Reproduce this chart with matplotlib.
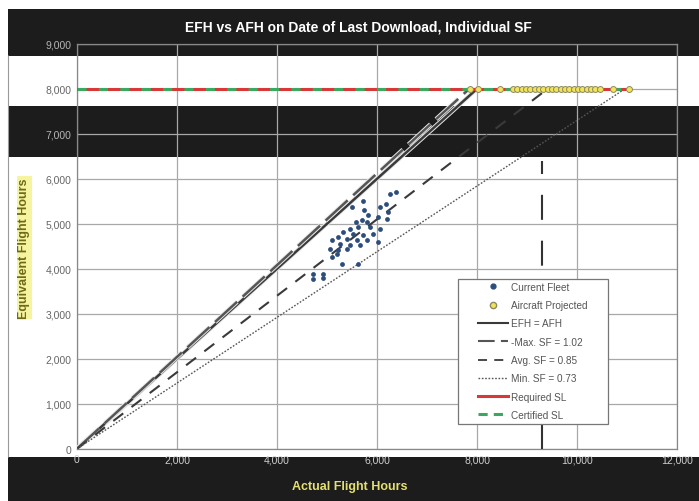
import matplotlib
matplotlib.use('Agg')
import matplotlib.pyplot as plt
import matplotlib.patheffects as pe
from matplotlib.patches import Rectangle
from matplotlib.lines import Line2D

plt.rcParams['font.family'] = ['Liberation Sans', 'DejaVu Sans']

# current fleet: actual flight hours vs equivalent flight hours
fleet_afh = [6260, 6380, 5727, 6180, 6060, 5740, 6227, 5827, 6027, 5693, 5580, 5793,
             6193, 5460, 5627, 5860, 6060, 5327, 5527, 5727, 5927, 5227, 5393, 5593,
             5793, 5093, 5260, 5460, 5660, 5060, 5227, 5393, 5093, 5193, 5293, 5627,
             6027, 4727, 4927, 4727, 4913, 5493]
fleet_efh = [5667, 5700, 5496, 5444, 5370, 5296, 5259, 5185, 5148, 5074, 5037, 5037,
             5111, 4889, 4926, 4926, 4889, 4815, 4778, 4741, 4778, 4704, 4667, 4630,
             4630, 4630, 4556, 4519, 4519, 4444, 4407, 4444, 4259, 4333, 4111, 4111,
             4593, 3889, 3889, 3778, 3793, 5370]

# projected AFH at which each aircraft reaches the service limit
proj_afh = [7860, 8020, 8460, 8720, 8800, 8890, 8980, 9060, 9150, 9240, 9320, 9410,
            9500, 9580, 9670, 9760, 9840, 9930, 10020, 10100, 10190, 10280, 10360,
            10450, 10720, 11040]
service_limit = 8000

sf_max = 1.02
sf_avg = 0.85
sf_min = 0.73

x_ticks = [0, 2000, 4000, 6000, 8000, 10000, 12000]
y_ticks = [0, 1000, 2000, 3000, 4000, 5000, 6000, 7000, 8000, 9000]

fig = plt.figure(figsize=(6.99, 5.02), dpi=100)
fig.patch.set_facecolor('white')

# photocopied black bands behind the chart
band = '#1c1c1c'
for y0, h in [(0.886, 0.094), (0.685, 0.102), (0.0, 0.088)]:
    fig.patches.append(Rectangle((0.0115, y0), 1 - 0.0115, h, transform=fig.transFigure,
                                 facecolor=band, edgecolor='none', zorder=-2))
fig.patches.append(Rectangle((0.0115, 0.088), 0.0, 0.8, transform=fig.transFigure,
                             facecolor='none', edgecolor='#999999', lw=0.8, zorder=-2))

ax = fig.add_axes([0.110, 0.104, 0.859, 0.807])
ax.set_zorder(1)
ax.set_facecolor('none')
ax.set_xlim(0, 12000)
ax.set_ylim(0, 9000)
ax.set_xticks(x_ticks)
ax.set_yticks(y_ticks)
ax.set_xticklabels(['{:,}'.format(v) for v in x_ticks], fontsize=7.5, color='#cfcfcf')
ax.set_yticklabels(['{:,}'.format(v) for v in y_ticks], fontsize=7.5, color='#666666')
for lab, v in zip(ax.get_yticklabels(), y_ticks):
    if v in (7000, 9000):
        lab.set_color('#b5b5b5')
ax.tick_params(length=0, pad=4)
ax.grid(True, color='#a8a8a8', lw=0.9)
ax.set_axisbelow(True)
for s in ax.spines.values():
    s.set_color('#888888')
    s.set_linewidth(0.9)

halo = [pe.Stroke(linewidth=3.2, foreground='#e8e8e8'), pe.Normal()]

# reference lines
ax.plot([0, service_limit], [0, service_limit], color='#3a3a3a', lw=1.8, zorder=3,
        path_effects=halo)
ax.plot([0, service_limit / sf_max], [0, service_limit], color='#555555', lw=1.8,
        dashes=(12, 3), zorder=3, path_effects=halo)
ax.plot([0, service_limit / sf_avg], [0, service_limit], color='#3a3a3a', lw=1.5,
        dashes=(6, 5), zorder=3)
ax.plot([0, service_limit / sf_min], [0, service_limit], color='#555555', lw=1.0,
        dashes=(1.2, 1.2), zorder=3)

# vertical projection marker
ax.plot([9300, 9300], [0, 6400], color='#333333', lw=1.5, dashes=(12, 10), zorder=3)

# service limits
ax.plot([0, 11040], [service_limit, service_limit], color='#d93838', lw=2.2, zorder=4)
ax.plot([0, 11040], [service_limit, service_limit], color='#3aa860', lw=2.2,
        dashes=(3, 4), zorder=4)

ax.scatter(fleet_afh, fleet_efh, s=12, color='#2d4d7c', zorder=5, linewidths=0)
ax.scatter(proj_afh, [service_limit] * len(proj_afh), s=18, color='#f2e35a',
           edgecolors='#8a8a60', linewidths=0.7, zorder=6)

handles = [
    Line2D([], [], ls='none', marker='o', ms=3.5, color='#2d4d7c'),
    Line2D([], [], ls='none', marker='o', ms=4.5, markerfacecolor='#f2e35a',
           markeredgecolor='#8a8a60'),
    Line2D([], [], color='#3a3a3a', lw=1.5),
    Line2D([], [], color='#555555', lw=1.5, dashes=(8, 3)),
    Line2D([], [], color='#3a3a3a', lw=1.3, dashes=(5, 4)),
    Line2D([], [], color='#555555', lw=1.0, dashes=(1.2, 1.2)),
    Line2D([], [], color='#d93838', lw=2.2),
    Line2D([], [], color='#3aa860', lw=2.2, dashes=(3, 2)),
]
labels = ['Current Fleet', 'Aircraft Projected', 'EFH = AFH', '-Max. SF = 1.02',
          'Avg. SF = 0.85', 'Min. SF = 0.73', 'Required SL', 'Certified SL']

# legend frame drawn separately so it can carry the wide left margin of the original
ax.add_patch(Rectangle((0.635, 0.062), 0.25, 0.358, transform=ax.transAxes,
                       facecolor='white', edgecolor='#777777', lw=0.9, zorder=9))
leg = ax.legend(handles, labels, loc='upper left', bbox_to_anchor=(0.668, 0.412),
                fontsize=7.2, frameon=False, handlelength=3.0, handletextpad=0.3,
                labelspacing=0.83, borderpad=0, borderaxespad=0,
                labelcolor='#555555')
leg.set_zorder(10)

fig.text(0.513, 0.946, 'EFH vs AFH on Date of Last Download, Individual SF',
         color='white', fontsize=10, fontweight='bold', ha='center', va='center')
fig.text(0.50, 0.030, 'Actual Flight Hours', color='#e4e070', fontsize=9,
         fontweight='bold', ha='center', va='center')
fig.text(0.035, 0.505, 'Equivalent Flight Hours', color='#6e6a18', fontsize=9,
         fontweight='bold', ha='center', va='center', rotation=90,
         bbox=dict(facecolor='#f7f4a0', edgecolor='none', pad=1))

fig.savefig('out.png', dpi=100)
